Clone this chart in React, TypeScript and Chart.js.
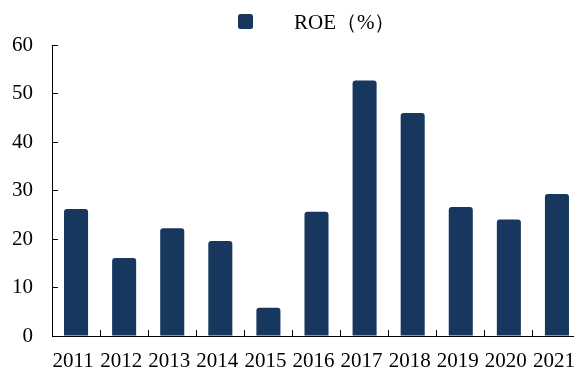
import React, { useEffect, useRef } from "react";
import { Chart, registerables } from "chart.js";

Chart.register(...registerables);

const YEARS = ["2011", "2012", "2013", "2014", "2015", "2016", "2017", "2018", "2019", "2020", "2021"];
const ROE_VALUES = [26.2, 16.1, 22.2, 19.6, 5.8, 25.6, 52.7, 46.0, 26.6, 24.0, 29.3];
const SERIES_LABEL = "ROE（%）";
const Y_MIN = 0;
const Y_MAX = 60;
const Y_STEP = 10;

const BAR_COLOR = "#17375E";
const FONT_FAMILY = "'Liberation Serif', 'Times New Roman', serif";

// Legend drawn at the top: a small rounded swatch followed by the series name.
const topLegend = {
  id: "topLegend",
  afterDraw(chart: Chart) {
    const ctx = chart.ctx;
    ctx.save();
    ctx.fillStyle = BAR_COLOR;
    ctx.beginPath();
    (ctx as any).roundRect(238, 14, 15, 15, 2.5);
    ctx.fill();
    ctx.font = `21px ${FONT_FAMILY}`;
    ctx.fillStyle = "#000";
    ctx.textBaseline = "alphabetic";
    ctx.textAlign = "left";
    ctx.fillText(SERIES_LABEL, 294, 28.5);
    ctx.restore();
  },
};

export default function App() {
  const canvasRef = useRef<HTMLCanvasElement | null>(null);

  useEffect(() => {
    const canvas = canvasRef.current;
    if (!canvas) return;
    const chart = new Chart(canvas, {
      type: "bar",
      data: {
        labels: YEARS,
        datasets: [
          {
            label: SERIES_LABEL,
            data: ROE_VALUES,
            backgroundColor: BAR_COLOR,
            borderRadius: 3,
            barPercentage: 0.5,
            categoryPercentage: 1,
          },
        ],
      },
      options: {
        responsive: false,
        animation: false,
        devicePixelRatio: 1,
        layout: { padding: { top: 45, left: 0, right: 9, bottom: 0 } },
        plugins: {
          legend: { display: false },
          tooltip: { enabled: false },
        },
        scales: {
          x: {
            offset: true,
            afterFit: (scale: any) => {
              scale.height = 44;
              scale.paddingLeft = 0;
              scale.paddingRight = 0;
            },
            grid: {
              offset: true,
              drawOnChartArea: false,
              drawTicks: true,
              tickLength: -6,
              tickColor: "#000",
            },
            border: { color: "#000", width: 1 },
            ticks: {
              color: "#000",
              font: { family: FONT_FAMILY, size: 21 },
              padding: 19,
              labelOffset: -3,
              maxRotation: 0,
              autoSkip: false,
            },
          },
          y: {
            min: Y_MIN,
            max: Y_MAX,
            afterFit: (scale: any) => {
              scale.width = 52;
            },
            grid: {
              drawOnChartArea: false,
              drawTicks: true,
              tickLength: -6,
              tickColor: "#000",
            },
            border: { color: "#000", width: 1 },
            ticks: {
              stepSize: Y_STEP,
              color: "#000",
              font: { family: FONT_FAMILY, size: 21 },
              padding: 25,
            },
          },
        },
      },
      plugins: [topLegend],
    });
    return () => chart.destroy();
  }, []);

  return (
    <div
      style={{
        position: "fixed",
        left: 0,
        top: 0,
        width: 574,
        height: 367,
        overflow: "hidden",
        background: "#fff",
      }}
    >
      <canvas ref={canvasRef} width={590} height={380} style={{ display: "block" }} />
    </div>
  );
}
